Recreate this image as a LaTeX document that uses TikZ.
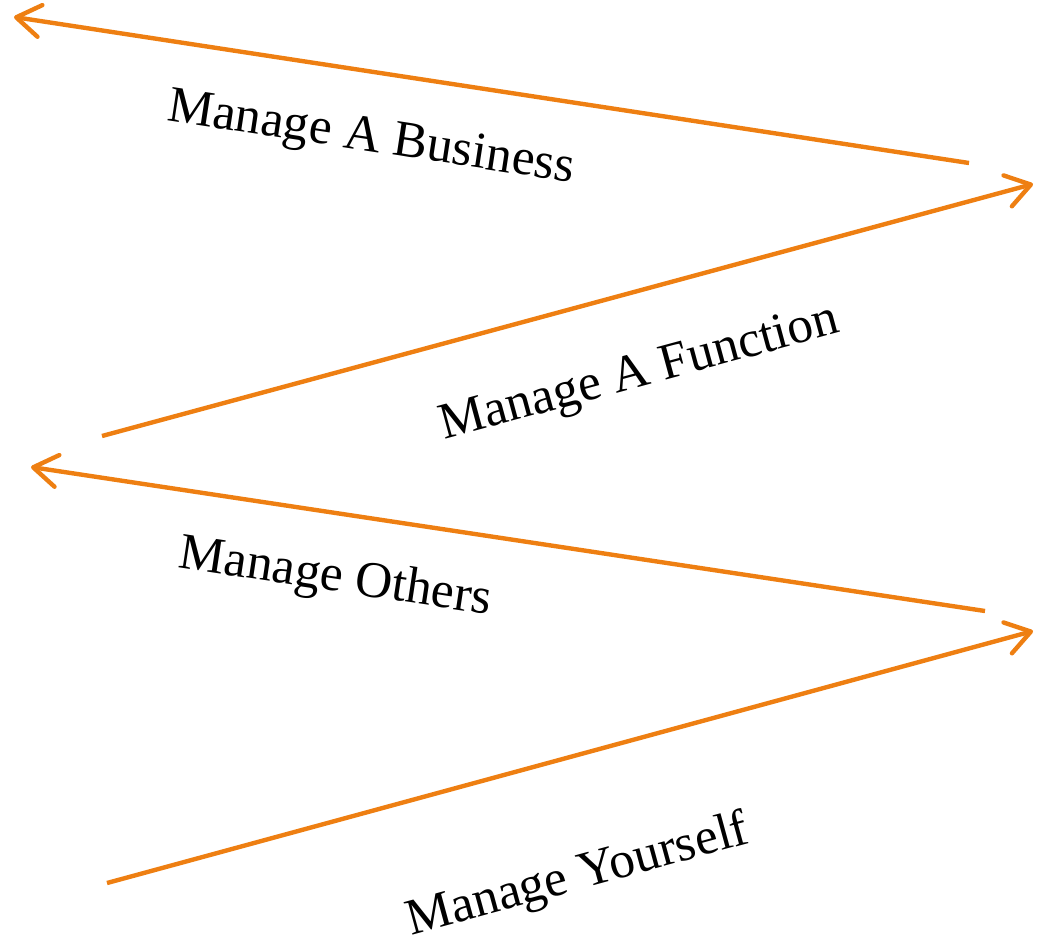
\documentclass[tikz,border=0pt]{standalone}
\usepackage{fontspec}
\setmainfont{Liberation Serif}
\usetikzlibrary{arrows.meta}

\definecolor{zigorange}{RGB}{238,127,18}

\tikzset{
  zigline/.style={draw=zigorange,line width=3.3pt,-{Straight Barb[length=18pt,width=24pt,line width=3.3pt,round]}},
  zaglabel/.style={inner sep=0.75pt,font=\fontsize{38.5}{42}\selectfont}
}

\begin{document}
\begin{tikzpicture}[x=0.75pt,y=0.75pt,yscale=-1,xscale=1]

\useasboundingbox (0,0) rectangle (1037,940);

% end points of the zig-zag
\coordinate (bizstart) at (969,163);
\coordinate (bizend) at (14,17);
\coordinate (funcstart) at (102,436);
\coordinate (funcend) at (1033,184);
\coordinate (othstart) at (985,611);
\coordinate (othend) at (31,467);
\coordinate (selfstart) at (107,883);
\coordinate (selfend) at (1033,631);

\draw [zigline] (bizstart) -- (bizend);
\draw [zigline] (funcstart) -- (funcend);
\draw [zigline] (othstart) -- (othend);
\draw [zigline] (selfstart) -- (selfend);

\node (business) at (371,140) [zaglabel,rotate=-8.7] {Manage A Business};
\node (function) at (640,375) [zaglabel,rotate=15.2] {Manage A Function};
\node (others) at (335,579) [zaglabel,rotate=-8.6] {Manage Others};
\node (yourself) at (578,877) [zaglabel,rotate=15.3] {Manage Yourself};

\end{tikzpicture}
\end{document}
